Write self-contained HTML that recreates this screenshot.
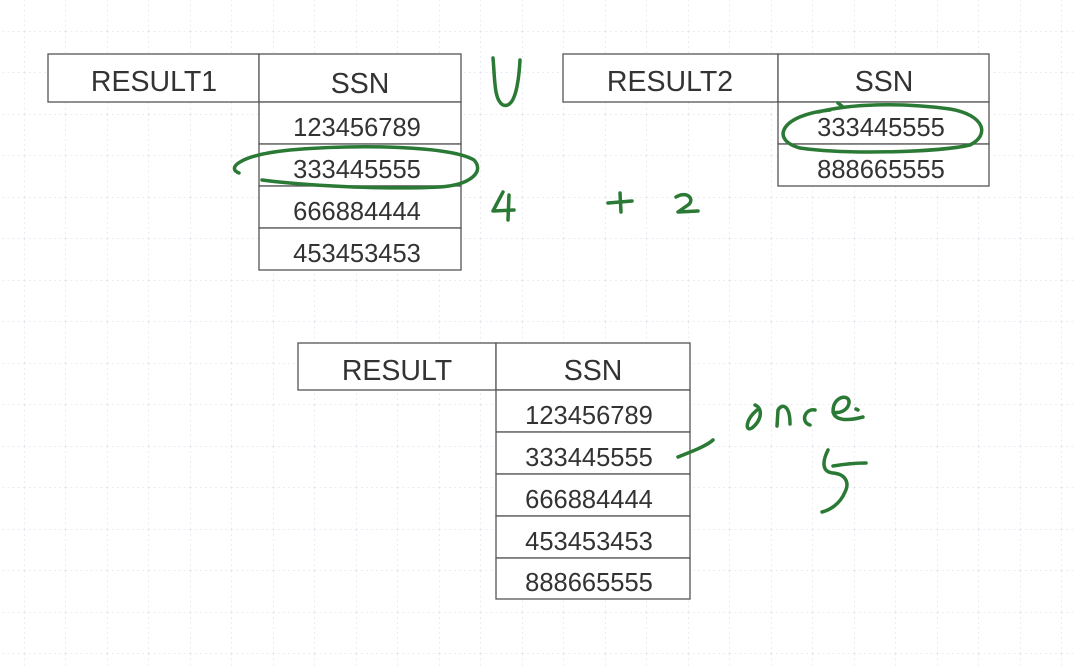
<!DOCTYPE html>
<html><head><meta charset="utf-8"><style>
html,body{margin:0;padding:0;background:#fff;}
svg{display:block;}
text{font-family:"Liberation Sans",sans-serif;fill:#333;text-anchor:middle;}
.h{font-size:28.5px;}
.n{font-size:25.5px;}
.g{fill:none;stroke:#2a7a35;stroke-width:3.5;stroke-linecap:round;stroke-linejoin:round;}
</style></head><body>
<svg width="1076" height="668" viewBox="0 0 1076 668">
<defs>
<pattern id="grid" x="24" y="31" width="41.5" height="41.5" patternUnits="userSpaceOnUse">
<path d="M0 0V41.5M0 0H41.5" stroke="#d5dbe8" stroke-width="1" stroke-dasharray="2 3" fill="none"/>
</pattern>
</defs>
<rect width="1076" height="668" fill="url(#grid)"/>
<g fill="#fff" stroke="#555" stroke-width="1.3">
<rect x="48" y="54" width="211" height="48"/>
<rect x="259" y="54" width="202" height="48"/>
<rect x="259" y="102" width="202" height="42"/>
<rect x="259" y="144" width="202" height="42"/>
<rect x="259" y="186" width="202" height="42"/>
<rect x="259" y="228" width="202" height="42"/>
<rect x="563" y="54" width="215" height="48"/>
<rect x="778" y="54" width="211" height="48"/>
<rect x="778" y="102" width="211" height="42"/>
<rect x="778" y="144" width="211" height="42"/>
<rect x="298" y="343" width="198" height="47"/>
<rect x="496" y="343" width="194" height="47"/>
<rect x="496" y="390" width="194" height="42"/>
<rect x="496" y="432" width="194" height="42"/>
<rect x="496" y="474" width="194" height="42"/>
<rect x="496" y="516" width="194" height="42"/>
<rect x="496" y="558" width="194" height="41"/>
</g>
<text class="h" x="154" y="91">RESULT1</text>
<text class="h" x="360" y="93">SSN</text>
<text class="n" x="357" y="136">123456789</text>
<text class="n" x="357" y="178">333445555</text>
<text class="n" x="357" y="220">666884444</text>
<text class="n" x="357" y="262">453453453</text>
<text class="h" x="670" y="91">RESULT2</text>
<text class="h" x="884" y="91">SSN</text>
<text class="n" x="881" y="136">333445555</text>
<text class="n" x="881" y="178">888665555</text>
<text class="h" x="397" y="380">RESULT</text>
<text class="h" x="593" y="380">SSN</text>
<text class="n" x="589" y="424">123456789</text>
<text class="n" x="589" y="466">333445555</text>
<text class="n" x="589" y="508">666884444</text>
<text class="n" x="589" y="550">453453453</text>
<text class="n" x="589" y="591">888665555</text>
<path class="g" d="M239 173 C226 168 240 155 290 150 C360 144 450 146 474 160 C485 172 470 185 440 187 C380 190 300 185 262 180"/>
<path class="g" d="M493 58 C495 80 494 100 503 105 C512 108 518 95 520 60"/>
<path class="g" d="M503 192 L493 211 L514 210 M509 195 L508 220"/>
<path class="g" d="M608 203 L632 201 M620 193 L621 212"/>
<path class="g" d="M676 197 C688 190 695 200 688 205 L678 212 L698 211"/>
<path class="g" d="M838 103 L843 107"/>
<path class="g" d="M830 110 C780 115 770 140 800 148 C850 155 940 152 970 145 C990 135 985 115 950 109 C900 102 850 104 818 112"/>
<path class="g" d="M678 457 C690 452 705 447 713 440"/>
<path class="g" d="M757 410 C745 420 745 432 752 428 C762 420 763 408 755 405"/>
<path class="g" d="M777 426 L778 410 C782 403 790 405 790 424"/>
<path class="g" d="M815 410 C805 408 800 422 810 425"/>
<path class="g" d="M833 412 C840 414 848 410 849 403 C850 395 838 395 834 405 C830 418 840 423 863 417"/>
<path class="g" d="M856 409 L858 410"/>
<path class="g" d="M828 450 C822 462 822 472 833 473 C845 474 850 482 845 492 C840 504 830 510 822 512 M833 466 C845 464 855 463 866 463"/>
</svg>
</body></html>
